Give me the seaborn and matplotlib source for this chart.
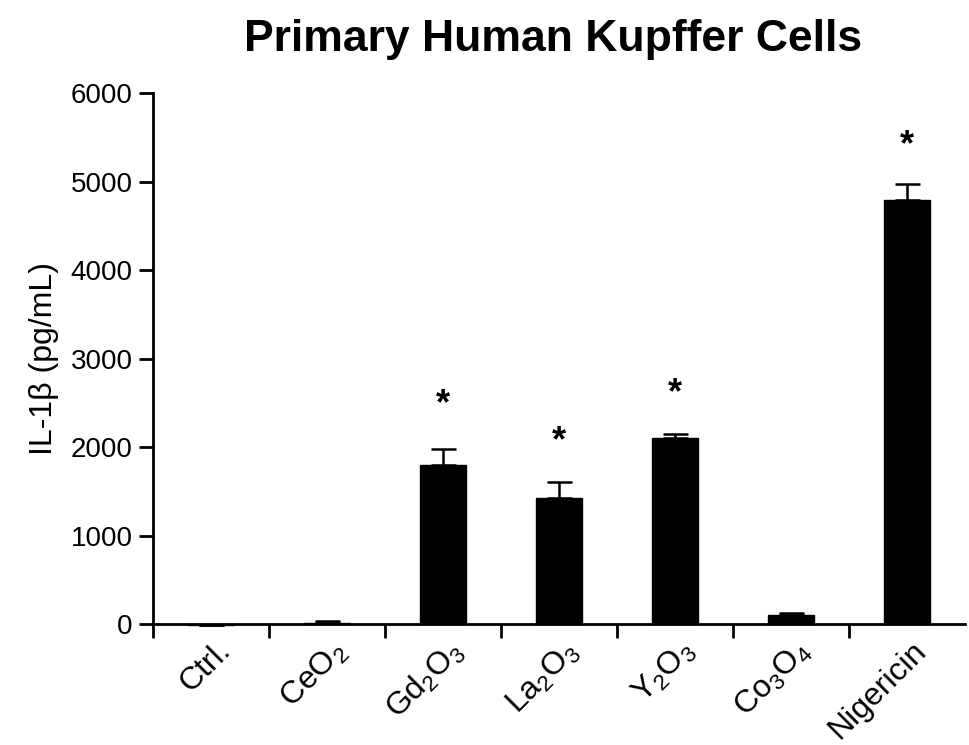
import matplotlib
matplotlib.use("Agg")
import matplotlib.pyplot as plt
import matplotlib.transforms as mtransforms
import seaborn as sns
import numpy as np
import pandas as pd

categories = ["Ctrl.", "CeO$_2$", "Gd$_2$O$_3$", "La$_2$O$_3$", "Y$_2$O$_3$", "Co$_3$O$_4$", "Nigericin"]
values = [-12, 12, 1800, 1425, 2100, 100, 4790]
errors = [0, 20, 185, 180, 55, 30, 180]
significant = [False, False, True, True, True, False, True]
star_heights = [None, None, 2480, 2060, 2610, None, 5410]

sns.set_theme(style="ticks")
plt.rcParams['font.family'] = ['Liberation Sans', 'DejaVu Sans']
plt.rcParams['mathtext.fontset'] = 'custom'
plt.rcParams['mathtext.rm'] = 'Liberation Sans'
plt.rcParams['mathtext.it'] = 'Liberation Sans'
plt.rcParams['text.color'] = 'black'
plt.rcParams['axes.labelcolor'] = 'black'
plt.rcParams['xtick.color'] = 'black'
plt.rcParams['ytick.color'] = 'black'

df = pd.DataFrame({"cat": categories, "val": values})

fig = plt.figure(figsize=(9.7, 7.45), dpi=100)
ax = fig.add_axes([0.158, 0.162, 0.837, 0.713])
sns.barplot(data=df, x="cat", y="val", color="black", width=0.4, ax=ax,
            saturation=1, errorbar=None)
for p in ax.patches:
    p.set_clip_on(False)
    p.set_edgecolor("black")

x = np.arange(len(categories))
ax.errorbar(x, values, yerr=[np.zeros(len(errors)), errors], fmt="none",
            ecolor="black", elinewidth=1.8, capsize=9, capthick=1.8, clip_on=False)

for xi, s, h in zip(x, significant, star_heights):
    if s:
        ax.text(xi, h, "*", ha="center", va="center", fontsize=26, fontweight="bold", color="black")

ax.set_ylim(0, 6000)
ax.set_xlim(-0.5, 6.5)
ax.set_yticks([0, 1000, 2000, 3000, 4000, 5000, 6000])
ax.set_xticks(x)
ax.set_xticklabels(categories, rotation=45, ha="right", rotation_mode="anchor", fontsize=23)
ax.tick_params(axis="x", length=0, pad=8)
offset = mtransforms.ScaledTranslation(4 / 100, 0, fig.dpi_scale_trans)
for lab in ax.get_xticklabels():
    lab.set_transform(lab.get_transform() + offset)
ax.set_xticks(np.arange(-0.5, 6.5, 1), minor=True)
ax.tick_params(axis="x", which="minor", length=10, width=2, direction="out", color="black")
ax.tick_params(axis="y", length=10, width=2, labelsize=20, color="black", pad=5)
for sp in ["left", "bottom"]:
    ax.spines[sp].set_linewidth(2)
    ax.spines[sp].set_color("black")
sns.despine(ax=ax)
ax.set_xlabel("")
ax.set_ylabel("IL-1β (pg/mL)", fontsize=23, labelpad=8)
fig.suptitle("Primary Human Kupffer Cells", fontsize=32, fontweight="bold", x=0.57, y=0.975)

fig.savefig("out.png", dpi=100)
